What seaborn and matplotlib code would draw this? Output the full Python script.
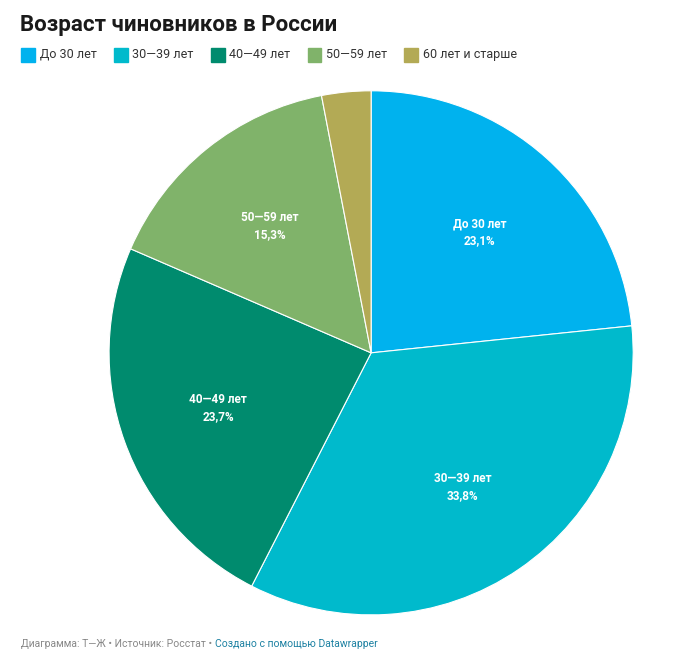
import matplotlib
matplotlib.use("Agg")
import matplotlib.pyplot as plt
import seaborn as sns
import numpy as np

categories = ["До 30 лет", "30—39 лет", "40—49 лет", "50—59 лет", "60 лет и старше"]
values = [23.1, 33.8, 23.7, 15.3, 3.0]
value_labels = ["23,1%", "33,8%", "23,7%", "15,3%", ""]
colors = sns.color_palette(["#00b2ee", "#00bacc", "#008b6e", "#80b36a", "#b3aa55"])

sns.set_theme(style="white", font="Roboto")
fig = plt.figure(figsize=(6.86, 6.62), dpi=100)
ax = fig.add_axes([0.159, 0.071, 0.764, 0.792])
wedges, _ = ax.pie(values, colors=colors, startangle=90, counterclock=False,
                   wedgeprops=dict(edgecolor="white", linewidth=0.8))
ax.set_aspect("equal")
ax.set_xlim(-1, 1)
ax.set_ylim(-1, 1)
total = sum(values)
cum = 0
for v, c, l in zip(values, categories, value_labels):
    mid = 90 - (cum + v / 2) / total * 360
    cum += v
    if not l:
        continue
    r = 0.62
    x, y = r * np.cos(np.radians(mid)), r * np.sin(np.radians(mid))
    ax.text(x, y, f"{c}\n{l}", ha="center", va="center", color="white",
            fontsize=8.5, fontweight="bold", linespacing=1.4)

fig.text(0.029, 0.962, "Возраст чиновников в России", fontsize=16, fontweight="bold",
         color="#1a1a1a", ha="left", va="center")
x = 0.031
for c, col in zip(categories, colors):
    fig.patches.append(plt.Rectangle((x, 0.907), 0.020, 0.021, transform=fig.transFigure,
                                     color=col, figure=fig))
    t = fig.text(x + 0.027, 0.918, c, fontsize=9, color="#333333", va="center")
    fig.canvas.draw()
    bb = t.get_window_extent()
    x = bb.x1 / fig.bbox.width + 0.025

t1 = fig.text(0.031, 0.027, "Диаграмма: Т—Ж • Источник: Росстат • ", fontsize=7.5,
              color="#888888", va="center")
fig.canvas.draw()
bb = t1.get_window_extent()
fig.text(bb.x1 / fig.bbox.width, 0.027, "Создано с помощью Datawrapper", fontsize=7.5,
         color="#1d81a2", va="center")
fig.savefig("out.png", dpi=100)
